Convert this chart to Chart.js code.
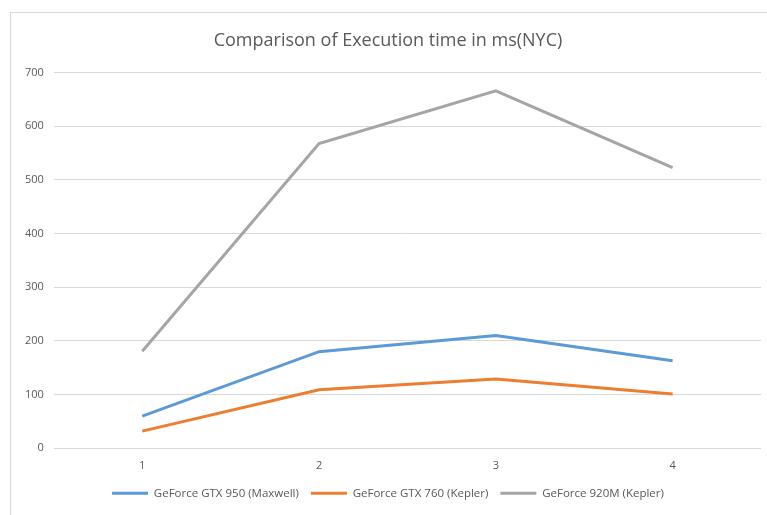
<!DOCTYPE html>
<html><head><meta charset="utf-8">
<script src="https://cdn.jsdelivr.net/npm/chart.js@4"></script>
<style>
html,body{margin:0;padding:0;background:#fff;}
#frame{position:absolute;left:10px;top:12px;width:770px;height:510px;border:1px solid #d9d9d9;box-sizing:border-box;}
#wrap{position:absolute;left:0;top:0;width:767px;height:515px;}
</style></head><body>
<div id="frame"></div>
<div id="wrap"><canvas id="c" width="767" height="515"></canvas></div>
<script>
const categories = ['1','2','3','4'];
const gtx950 = [60, 180, 210, 163];
const gtx760 = [32, 109, 129, 101];
const m920 = [181, 568, 666, 523];
const yTicks = [0,100,200,300,400,500,600,700];

new Chart(document.getElementById('c'), {
  type: 'line',
  data: {
    labels: categories,
    datasets: [
      {label:'GeForce GTX 950 (Maxwell)', data:gtx950, borderColor:'#5B9BD5', backgroundColor:'#5B9BD5', borderWidth:3, pointRadius:0, tension:0},
      {label:'GeForce GTX 760 (Kepler)', data:gtx760, borderColor:'#ED7D31', backgroundColor:'#ED7D31', borderWidth:3, pointRadius:0, tension:0},
      {label:'GeForce 920M (Kepler)', data:m920, borderColor:'#A5A5A5', backgroundColor:'#A5A5A5', borderWidth:3, pointRadius:0, tension:0}
    ]
  },
  options: {
    responsive:false, animation:false,
    layout:{padding:{left:15,right:6,top:30,bottom:6}},
    plugins:{
      title:{display:true,text:'Comparison of Execution time in ms(NYC)',color:'#595959',font:{family:'Open Sans',size:18,weight:'normal'},padding:{top:0,bottom:21}},
      legend:{position:'bottom',labels:{usePointStyle:true,pointStyle:'line',pointStyleWidth:36,boxHeight:3,color:'#595959',font:{family:'Open Sans',size:11.5},padding:12}},
      tooltip:{enabled:false}
    },
    scales:{
      x:{offset:true,grid:{display:false},border:{display:false},ticks:{color:'#595959',font:{family:'Open Sans',size:11},padding:3}},
      y:{min:0,max:700,afterBuildTicks:(s)=>{s.ticks=yTicks.map(v=>({value:v}));},grid:{color:'#d9d9d9',drawTicks:false},border:{display:false},ticks:{color:'#595959',font:{family:'Open Sans',size:11},padding:10}}
    }
  }
});
</script></body></html>
